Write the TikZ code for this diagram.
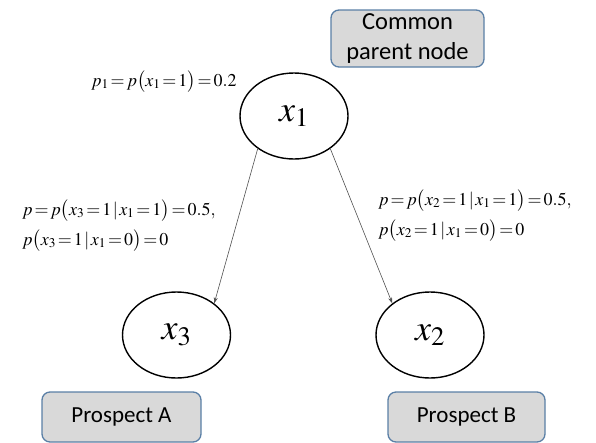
\documentclass[tikz,border=0pt]{standalone}
\usepackage{mathptmx}
\usepackage[no-math]{fontspec}
\newfontfamily\boxfont{Carlito}
\usetikzlibrary{arrows.meta,shapes.geometric}
\definecolor{boxfill}{HTML}{D9D9D9}
\definecolor{boxline}{HTML}{5A7FA6}
\definecolor{arrowgray}{HTML}{505050}
\newcommand{\cnd}{\mskip1.5mu|\mskip1.5mu}
\newcommand{\tightrel}{\thickmuskip=2mu plus 1mu\relax}
\tikzset{
  graybox/.style={draw=boxline, fill=boxfill, line width=1.3pt, rounded corners=8pt,
    inner sep=0pt, align=center},
  varnode/.style={draw=black, ellipse, line width=1.4pt, inner sep=0pt,
    minimum width=108pt, minimum height=86pt, font=\fontsize{36}{40}\selectfont},
  problabel/.style={anchor=base west, inner sep=0pt, align=left,
    font=\fontsize{18}{30}\selectfont\tightrel},
  link/.style={draw=arrowgray, line width=0.6pt, -{Stealth[length=6pt,width=4pt]}}
}
\begin{document}
\begin{tikzpicture}[x=1pt,y=-1pt]
\useasboundingbox (0,0) rectangle (596,442);
% boxes
\node[graybox, minimum width=153pt, minimum height=57pt,
  font=\boxfont\fontsize{24.5}{30}\selectfont] (parent) at (407.5,38.5) {Common\\parent node};
\node[graybox, minimum width=159pt, minimum height=50pt,
  font=\boxfont\fontsize{23}{28}\selectfont] (prospA) at (121.5,417) {Prospect A};
\node[graybox, minimum width=157pt, minimum height=50pt,
  font=\boxfont\fontsize{23}{28}\selectfont] (prospB) at (466.5,417) {Prospect B};
% variables
\node[varnode] (x1) at (294,116) {$x_1$};
\node[varnode] (x3) at (176.5,335) {$x_3$};
\node[varnode] (x2) at (430,335) {$x_2$};
% probability labels (anchor at baseline of last line)
\node[problabel] (lp1) at (91,86) {$p_1 = p\bigl(x_1 = 1\bigr) = 0.2$};
\node[problabel] (lp3) at (22,245) {$p = p\bigl(x_3 = 1\cnd x_1 = 1\bigr) = 0.5,$\\$p\bigl(x_3 = 1\cnd x_1 = 0\bigr) = 0$};
\node[problabel] (lp2) at (378,235) {$p = p\bigl(x_2 = 1\cnd x_1 = 1\bigr) = 0.5,$\\$p\bigl(x_2 = 1\cnd x_1 = 0\bigr) = 0$};
% connectors
\draw[link] (x1.-138) -- (x3.40);
\draw[link] (x1.-42) -- (x2.140);
\end{tikzpicture}
\end{document}
